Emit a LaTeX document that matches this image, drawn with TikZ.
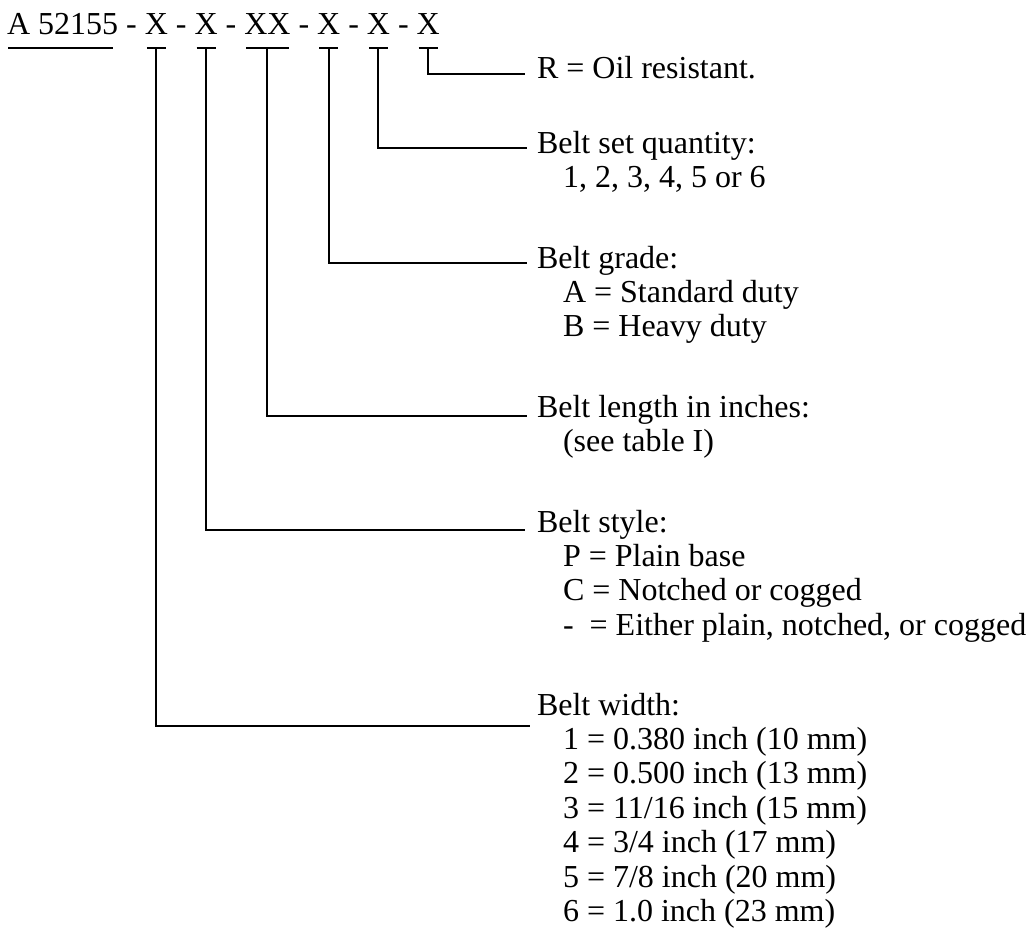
\documentclass[tikz,border=0pt]{standalone}
\usepackage{fontspec}
\setmainfont{Liberation Serif}
\begin{document}
\begin{tikzpicture}[x=1pt,y=-1pt,
  txt/.style={inner sep=0pt, outer sep=0pt, anchor=base west,
              font=\fontsize{32}{34.4}\selectfont},
  ln/.style={line width=2pt},
]
\useasboundingbox (0,0) rectangle (1029,946);

% part number, built piece by piece so each field has its own node
\node[txt] (pn) at (7,34) {A 52155};
\node[txt] (s1) at (pn.base east) {\ -\ \mbox{}};
\node[txt] (f1) at (s1.base east) {X};
\node[txt] (s2) at (f1.base east) {\ -\ \mbox{}};
\node[txt] (f2) at (s2.base east) {X};
\node[txt] (s3) at (f2.base east) {\ -\ \mbox{}};
\node[txt] (f3) at (s3.base east) {XX};
\node[txt] (s4) at (f3.base east) {\ -\ \mbox{}};
\node[txt] (f4) at (s4.base east) {X};
\node[txt] (s5) at (f4.base east) {\ -\ \mbox{}};
\node[txt] (f5) at (s5.base east) {X};
\node[txt] (s6) at (f5.base east) {\ -\ \mbox{}};
\node[txt] (f6) at (s6.base east) {X};

% underline of the base number
\draw[ln] ([xshift=1pt,yshift=-14pt]pn.base west) -- ([xshift=-5pt,yshift=-14pt]pn.base east);

% tee bars under each field
\foreach \f in {f1,f2,f3,f4,f5,f6}
  \draw[ln] ([xshift=2pt,yshift=-14pt]\f.base west) -- ([xshift=-2pt,yshift=-14pt]\f.base east);

% legend text: headings at fixed baselines, detail lines 34.4pt apart
\def\hx{537}
\def\ix{563}
\def\ls{34.4}
\node[txt] (oil) at (\hx,78) {R = Oil resistant.};

\node[txt] (qty) at (\hx,153) {Belt set quantity:};
\node[txt] (qty1) at (\ix,{153+\ls}) {1, 2, 3, 4, 5 or 6};

\node[txt] (grd) at (\hx,268) {Belt grade:};
\node[txt] (grd1) at (\ix,{268+\ls}) {A = Standard duty};
\node[txt] (grd2) at (\ix,{268+2*\ls}) {B = Heavy duty};

\node[txt] (len) at (\hx,417) {Belt length in inches:};
\node[txt] (len1) at (\ix,{417+\ls}) {(see table I)};

\node[txt] (sty) at (\hx,532) {Belt style:};
\node[txt] (sty1) at (\ix,{532+\ls}) {P = Plain base};
\node[txt] (sty2) at (\ix,{532+2*\ls}) {C = Notched or cogged};
\node[txt] (sty3) at (\ix,{532+3*\ls}) {-\ \ = Either plain, notched, or cogged};

\node[txt] (wid) at (\hx,715) {Belt width:};
\node[txt] (wid1) at (\ix,{715+\ls}) {1 = 0.380 inch (10 mm)};
\node[txt] (wid2) at (\ix,{715+2*\ls}) {2 = 0.500 inch (13 mm)};
\node[txt] (wid3) at (\ix,{715+3*\ls}) {3 = 11/16 inch (15 mm)};
\node[txt] (wid4) at (\ix,{715+4*\ls}) {4 = 3/4 inch (17 mm)};
\node[txt] (wid5) at (\ix,{715+5*\ls}) {5 = 7/8 inch (20 mm)};
\node[txt] (wid6) at (\ix,{715+6*\ls}) {6 = 1.0 inch (23 mm)};

% leaders from each field to its description
\draw[ln] ([yshift=-14pt]f6.base) |- ([xshift=-12pt,yshift=4pt]oil.base west);
\draw[ln] ([yshift=-14pt]f5.base) |- ([xshift=-10pt,yshift=5pt]qty.base west);
\draw[ln] ([yshift=-14pt]f4.base) |- ([xshift=-10pt,yshift=5pt]grd.base west);
\draw[ln] ([yshift=-14pt]f3.base) |- ([xshift=-10pt,yshift=1pt]len.base west);
\draw[ln] ([yshift=-14pt]f2.base) |- ([xshift=-12pt,yshift=2pt]sty.base west);
\draw[ln] ([yshift=-14pt]f1.base) |- ([xshift=-7pt,yshift=-11pt]wid.base west);
\end{tikzpicture}
\end{document}
